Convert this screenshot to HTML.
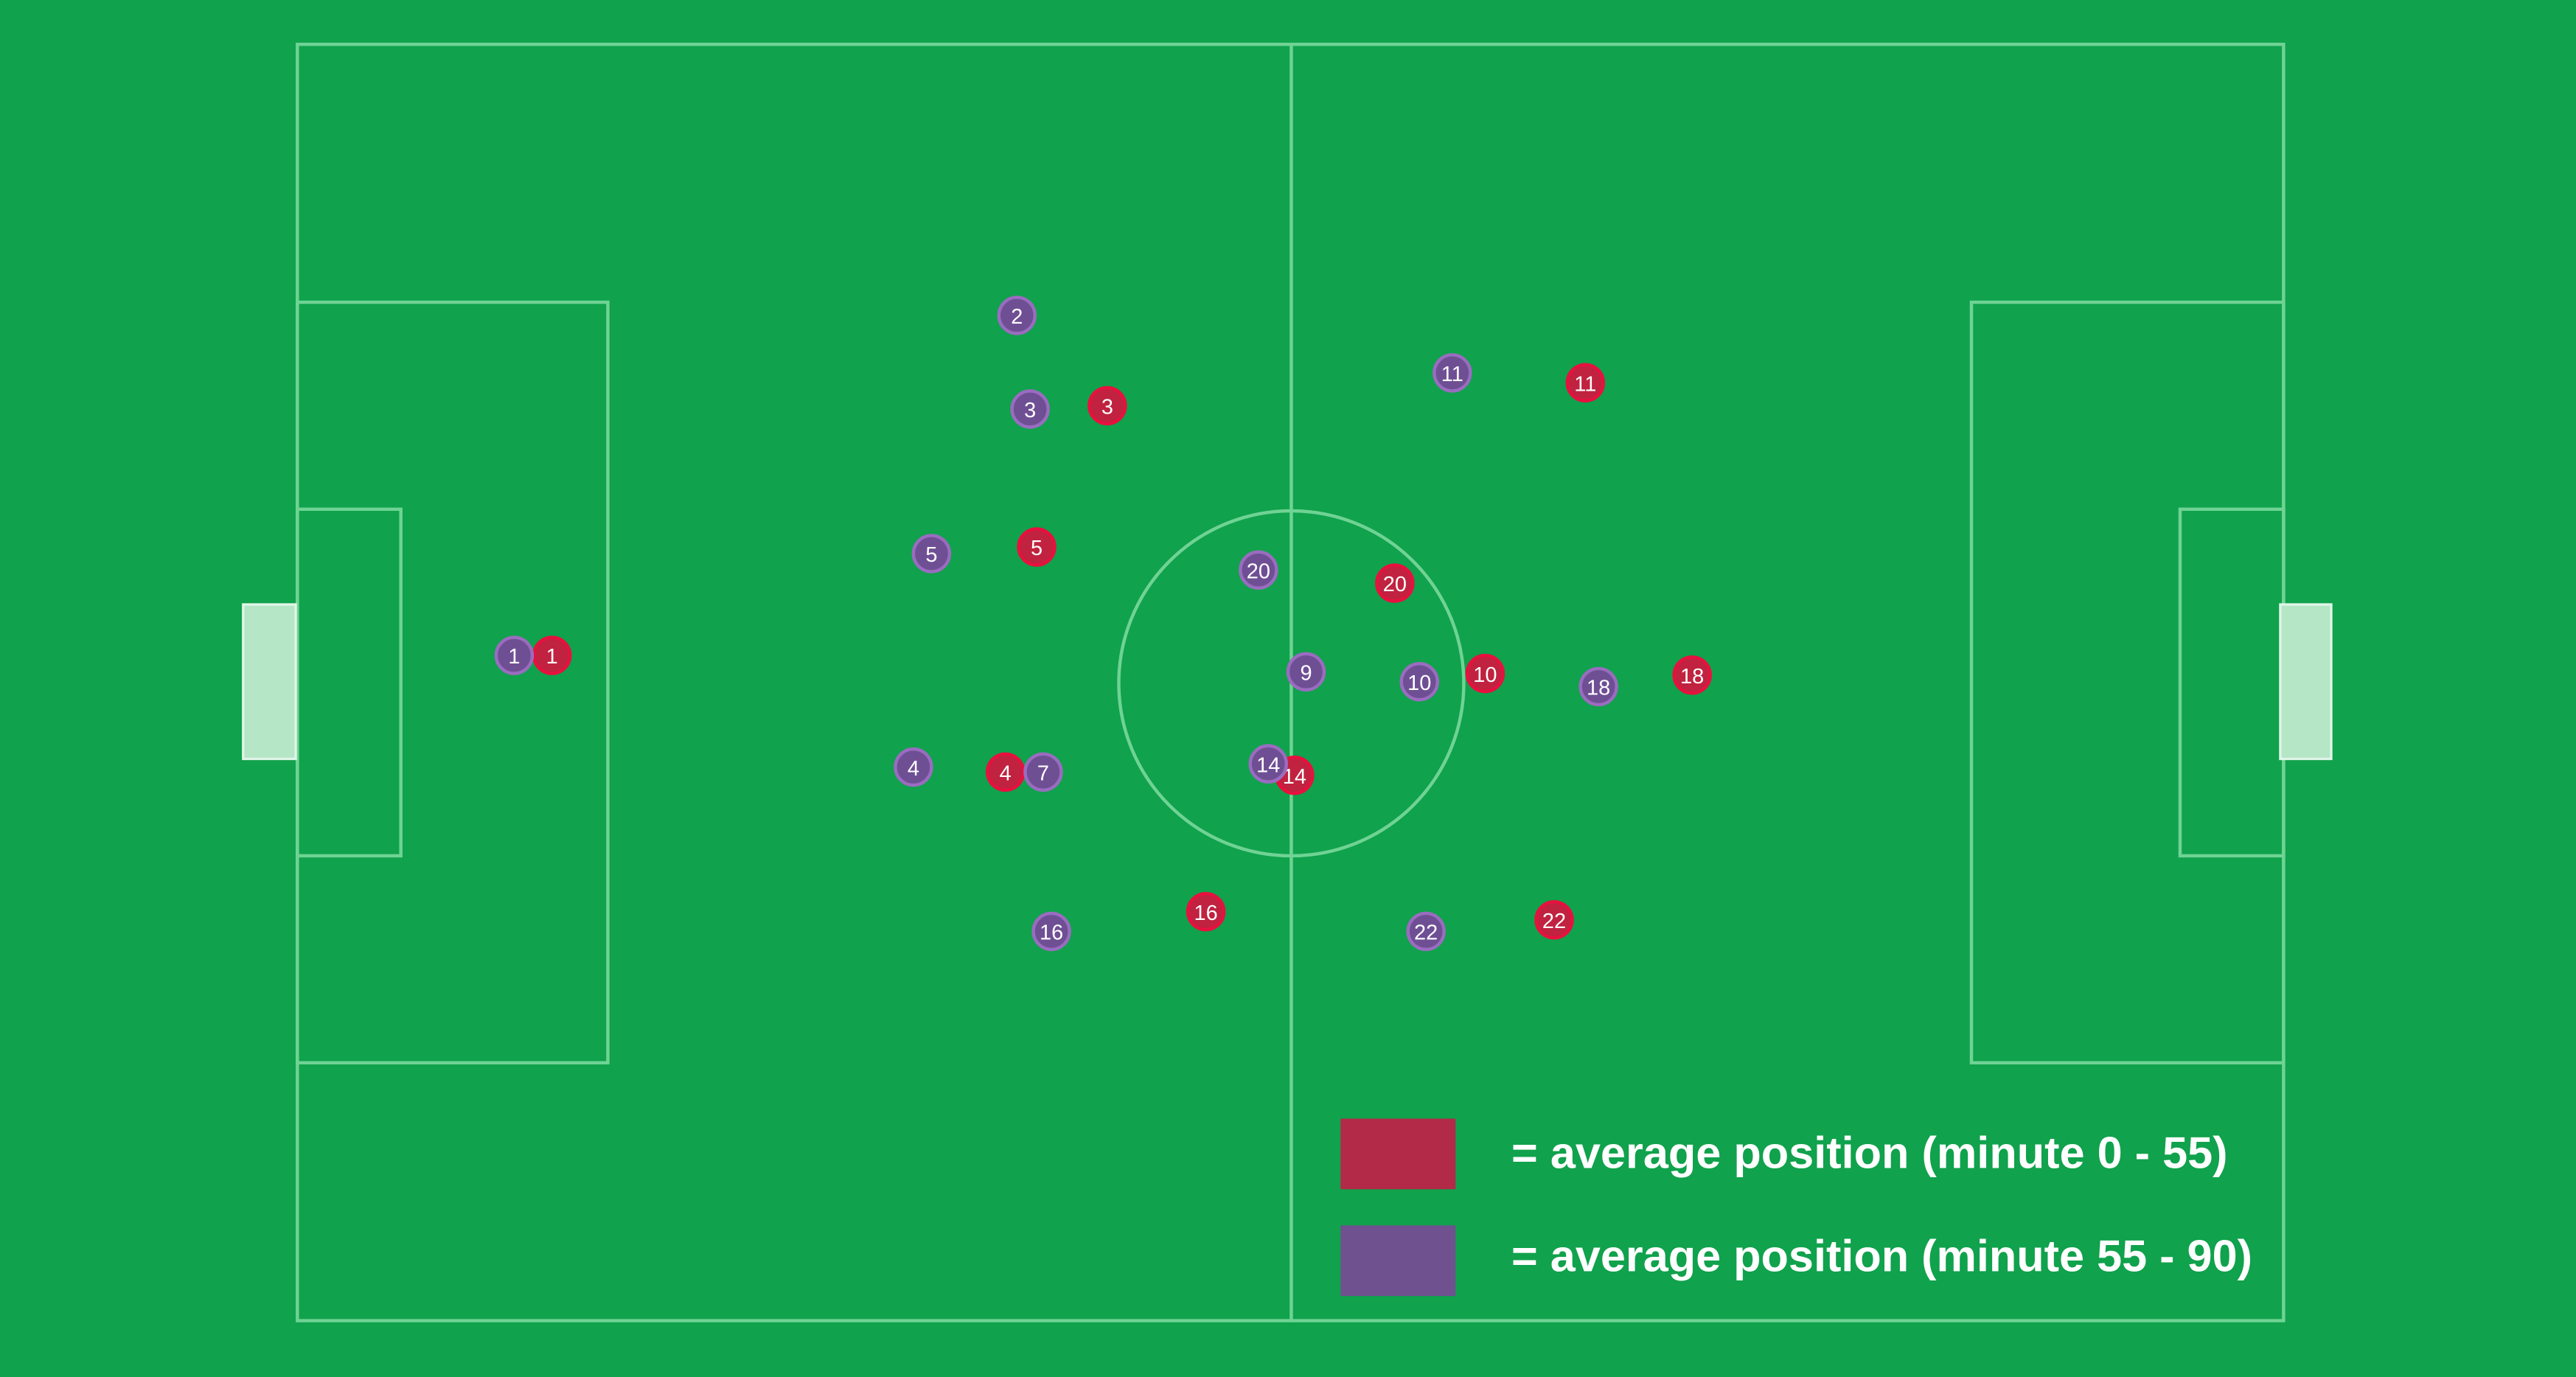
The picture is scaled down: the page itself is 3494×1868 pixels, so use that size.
<!DOCTYPE html>
<html><head><meta charset="utf-8"><style>
html,body{margin:0;padding:0;background:#10a24c;}
svg{display:block;}
</style></head><body>
<svg width="3494" height="1868" viewBox="0 0 1568 838.3" preserveAspectRatio="none" xmlns="http://www.w3.org/2000/svg">
<rect x="0" y="0" width="1568" height="838.3" fill="#10a24c"/>
<g fill="none" stroke="#6fd394" stroke-width="2">
<rect x="181" y="27" width="1209" height="777"/>
<line x1="786" y1="27" x2="786" y2="804"/>
<circle cx="786" cy="416" r="105"/>
<rect x="181" y="184" width="189" height="463"/>
<rect x="181" y="310" width="63" height="211"/>
<rect x="1200" y="184" width="190" height="463"/>
<rect x="1327" y="310" width="63" height="211"/>
</g>
<rect x="148" y="368" width="32" height="94" fill="#b5e6c6" stroke="#e0f5e8" stroke-width="1.5"/>
<rect x="1388" y="368" width="31" height="94" fill="#b5e6c6" stroke="#e0f5e8" stroke-width="1.5"/>
<g font-family="Liberation Sans, sans-serif" font-size="13" fill="#fff" text-anchor="middle">
<g>
<circle cx="336" cy="399" r="11" fill="#c0223f" stroke="#e8103f" stroke-width="2"/><text x="336" y="404">1</text>
<circle cx="674" cy="247" r="11" fill="#c0223f" stroke="#e8103f" stroke-width="2"/><text x="674" y="252">3</text>
<circle cx="631" cy="333" r="11" fill="#c0223f" stroke="#e8103f" stroke-width="2"/><text x="631" y="338">5</text>
<circle cx="612" cy="470" r="11" fill="#c0223f" stroke="#e8103f" stroke-width="2"/><text x="612" y="475">4</text>
<circle cx="734" cy="555" r="11" fill="#c0223f" stroke="#e8103f" stroke-width="2"/><text x="734" y="560">16</text>
<circle cx="849" cy="355" r="11" fill="#c0223f" stroke="#e8103f" stroke-width="2"/><text x="849" y="360">20</text>
<circle cx="788" cy="472" r="11" fill="#c0223f" stroke="#e8103f" stroke-width="2"/><text x="788" y="477">14</text>
<circle cx="904" cy="410" r="11" fill="#c0223f" stroke="#e8103f" stroke-width="2"/><text x="904" y="415">10</text>
<circle cx="1030" cy="411" r="11" fill="#c0223f" stroke="#e8103f" stroke-width="2"/><text x="1030" y="416">18</text>
<circle cx="965" cy="233" r="11" fill="#c0223f" stroke="#e8103f" stroke-width="2"/><text x="965" y="238">11</text>
<circle cx="946" cy="560" r="11" fill="#c0223f" stroke="#e8103f" stroke-width="2"/><text x="946" y="565">22</text>
</g>
<g>
<circle cx="313" cy="399" r="11" fill="#6f4f94" stroke="#9a6cc0" stroke-width="2"/><text x="313" y="404">1</text>
<circle cx="619" cy="192" r="11" fill="#6f4f94" stroke="#9a6cc0" stroke-width="2"/><text x="619" y="197">2</text>
<circle cx="627" cy="249" r="11" fill="#6f4f94" stroke="#9a6cc0" stroke-width="2"/><text x="627" y="254">3</text>
<circle cx="567" cy="337" r="11" fill="#6f4f94" stroke="#9a6cc0" stroke-width="2"/><text x="567" y="342">5</text>
<circle cx="556" cy="467" r="11" fill="#6f4f94" stroke="#9a6cc0" stroke-width="2"/><text x="556" y="472">4</text>
<circle cx="635" cy="470" r="11" fill="#6f4f94" stroke="#9a6cc0" stroke-width="2"/><text x="635" y="475">7</text>
<circle cx="640" cy="567" r="11" fill="#6f4f94" stroke="#9a6cc0" stroke-width="2"/><text x="640" y="572">16</text>
<circle cx="766" cy="347" r="11" fill="#6f4f94" stroke="#9a6cc0" stroke-width="2"/><text x="766" y="352">20</text>
<circle cx="795" cy="409" r="11" fill="#6f4f94" stroke="#9a6cc0" stroke-width="2"/><text x="795" y="414">9</text>
<circle cx="772" cy="465" r="11" fill="#6f4f94" stroke="#9a6cc0" stroke-width="2"/><text x="772" y="470">14</text>
<circle cx="864" cy="415" r="11" fill="#6f4f94" stroke="#9a6cc0" stroke-width="2"/><text x="864" y="420">10</text>
<circle cx="973" cy="418" r="11" fill="#6f4f94" stroke="#9a6cc0" stroke-width="2"/><text x="973" y="423">18</text>
<circle cx="884" cy="227" r="11" fill="#6f4f94" stroke="#9a6cc0" stroke-width="2"/><text x="884" y="232">11</text>
<circle cx="868" cy="567" r="11" fill="#6f4f94" stroke="#9a6cc0" stroke-width="2"/><text x="868" y="572">22</text>
</g>
</g>
<rect x="816" y="681" width="70" height="43" fill="#b22a48"/>
<rect x="816" y="746" width="70" height="43" fill="#6f5190"/>
<g font-family="Liberation Sans, sans-serif" font-weight="bold" font-size="27" fill="#fff">
<text x="920" y="711" textLength="436" lengthAdjust="spacingAndGlyphs">= average position (minute 0 - 55)</text>
<text x="920" y="774" textLength="451" lengthAdjust="spacingAndGlyphs">= average position (minute 55 - 90)</text>
</g>
</svg>
</body></html>
